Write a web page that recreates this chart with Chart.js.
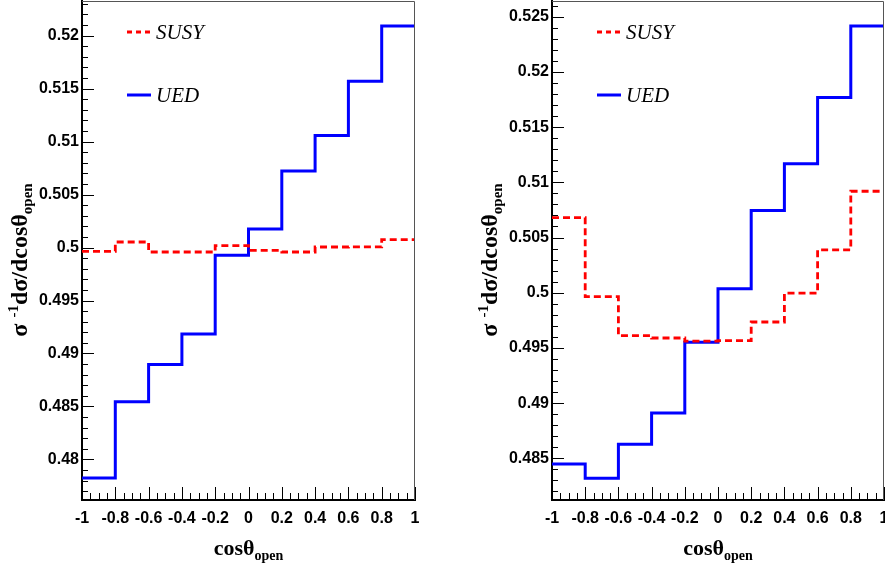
<!DOCTYPE html>
<html>
<head>
<meta charset="utf-8">
<script src="https://cdn.jsdelivr.net/npm/chart.js@4.4.1/dist/chart.umd.min.js"></script>
<style>
    body { margin: 0; background: #fff; width: 885px; height: 567px; position: relative; overflow: hidden; }
    .panel { position: absolute; top: 0; width: 440px; height: 567px; }
    #panel-left { left: 0; }
    #panel-right { left: 445px; }
</style>
</head>
<body>
<div class="panel" id="panel-left"><canvas id="chartLeft" width="440" height="567"></canvas></div>
<div class="panel" id="panel-right"><canvas id="chartRight" width="440" height="567"></canvas></div>
<script>
// bin edges of cos(theta_open), 10 bins of 0.2
const binEdges = [-1, -0.8, -0.6, -0.4, -0.2, 0, 0.2, 0.4, 0.6, 0.8, 1];
const xTickLabels = ['-1', '-0.8', '-0.6', '-0.4', '-0.2', '0', '0.2', '0.4', '0.6', '0.8', '1'];

// left plot
const susyLeft = [0.49964, 0.50052, 0.49958, 0.49958, 0.50018, 0.49974, 0.49958, 0.50005, 0.50006, 0.50074];
const uedLeft = [0.47824, 0.48544, 0.48896, 0.49183, 0.49927, 0.50174, 0.50722, 0.51057, 0.51569, 0.52091];
const yTickLabelsLeft = ['0.48', '0.485', '0.49', '0.495', '0.5', '0.505', '0.51', '0.515', '0.52'];
const yRangeLeft = [0.47617, 0.52327];

// right plot
const susyRight = [0.50681, 0.49964, 0.49612, 0.49590, 0.49562, 0.49566, 0.49735, 0.49996, 0.50389, 0.50919];
const uedRight = [0.48449, 0.48319, 0.48627, 0.48910, 0.49552, 0.50036, 0.50744, 0.51169, 0.51768, 0.52416];
const yTickLabelsRight = ['0.485', '0.49', '0.495', '0.5', '0.505', '0.51', '0.515', '0.52', '0.525'];
const yRangeRight = [0.48123, 0.52642];

const seriesNames = ['SUSY', 'UED'];

Chart.defaults.font.family = "'Liberation Sans', Arial, sans-serif";
Chart.defaults.color = '#000';

// histogram as step line: one point per left bin edge, last edge repeats the last value
function toSteps(values) {
    return binEdges.map((x, i) => ({ x: x, y: values[Math.min(i, values.length - 1)] }));
}

// ROOT-like frame: inner ticks, grey top/right border, legend and axis titles
const rootStyle = {
    id: 'rootStyle',
    afterDraw(chart) {
        const { ctx, chartArea: a, scales } = chart;
        const xs = scales.x, ys = scales.y;
        ctx.save();

        ctx.strokeStyle = '#555';
        ctx.lineWidth = 1;
        ctx.beginPath();
        ctx.moveTo(a.left, a.top + 0.5);
        ctx.lineTo(a.right - 0.5, a.top + 0.5);
        ctx.lineTo(a.right - 0.5, a.bottom);
        ctx.stroke();

        ctx.strokeStyle = '#000';
        ctx.beginPath();
        // y ticks: major every 0.005, minor every 0.001
        for (let k = Math.ceil(ys.min * 1000); k <= Math.floor(ys.max * 1000); k++) {
            const py = Math.round(ys.getPixelForValue(k / 1000)) + 0.5;
            const len = (k % 5 === 0) ? 12 : 6;
            ctx.moveTo(a.left, py);
            ctx.lineTo(a.left + len, py);
        }
        // x ticks: major every 0.2, minor every 0.05
        for (let k = -20; k <= 20; k++) {
            const px = Math.round(xs.getPixelForValue(k / 20)) + 0.5;
            const len = (k % 4 === 0) ? 13 : 7;
            ctx.moveTo(px, a.bottom);
            ctx.lineTo(px, a.bottom - len);
        }
        ctx.stroke();

        // legend inside the frame
        chart.data.datasets.forEach((ds, i) => {
            const ly = a.top + 31 + i * 63;
            ctx.strokeStyle = ds.borderColor;
            ctx.lineWidth = ds.borderWidth;
            ctx.setLineDash(ds.borderDash ? [5, 4] : []);
            ctx.beginPath();
            ctx.moveTo(a.left + 45, ly);
            ctx.lineTo(a.left + 69, ly);
            ctx.stroke();
            ctx.setLineDash([]);
            ctx.fillStyle = '#000';
            ctx.font = "italic 21px 'Liberation Serif', 'Times New Roman', serif";
            ctx.textBaseline = 'middle';
            ctx.textAlign = 'left';
            ctx.fillText(ds.label, a.left + 74, ly + 1);
        });

        // x title: cos(theta) with subscript "open"
        ctx.fillStyle = '#000';
        ctx.textBaseline = 'alphabetic';
        ctx.textAlign = 'left';
        const mainFont = "bold 22px 'Liberation Serif', 'Times New Roman', serif";
        const subFont = "bold 14px 'Liberation Serif', 'Times New Roman', serif";
        ctx.font = mainFont;
        const wMain = ctx.measureText('cos\u03b8').width;
        ctx.font = subFont;
        const wSub = ctx.measureText('open').width;
        let tx = (a.left + a.right) / 2 - (wMain + wSub) / 2;
        ctx.font = mainFont;
        ctx.fillText('cos\u03b8', tx, 555);
        ctx.font = subFont;
        ctx.fillText('open', tx + wMain, 560);

        // y title: sigma^-1 dsigma/dcos(theta)_open, rotated
        ctx.translate(a.left - 55, 260);
        ctx.rotate(-Math.PI / 2);
        const yMain = "bold 24px 'Liberation Serif', 'Times New Roman', serif";
        const ySmall = "bold 15px 'Liberation Serif', 'Times New Roman', serif";
        const parts = [
            { t: '\u03c3 ', f: yMain, dy: 0 },
            { t: '-1', f: ySmall, dy: -9 },
            { t: 'd\u03c3/dcos\u03b8', f: yMain, dy: 0 },
            { t: 'open', f: ySmall, dy: 5 }
        ];
        let total = 0;
        parts.forEach(p => { ctx.font = p.f; p.w = ctx.measureText(p.t).width; total += p.w; });
        let cx = -total / 2;
        parts.forEach(p => { ctx.font = p.f; ctx.fillText(p.t, cx, p.dy); cx += p.w; });

        ctx.restore();
    }
};

function makeChart(canvasId, susy, ued, yTicks, yRange, yAxisWidth, padRight) {
    const ctx = document.getElementById(canvasId).getContext('2d');
    return new Chart(ctx, {
        type: 'line',
        data: {
            datasets: [
                {
                    label: seriesNames[0],
                    data: toSteps(susy),
                    borderColor: '#ff0000',
                    borderWidth: 2.8,
                    borderDash: [7, 4],
                    stepped: 'before',
                    pointRadius: 0,
                    fill: false
                },
                {
                    label: seriesNames[1],
                    data: toSteps(ued),
                    borderColor: '#0000ff',
                    borderWidth: 3,
                    stepped: 'before',
                    pointRadius: 0,
                    fill: false
                }
            ]
        },
        options: {
            responsive: false,
            animation: false,
            devicePixelRatio: 1,
            layout: { padding: { left: 0, right: padRight, top: 1, bottom: 0 } },
            plugins: {
                legend: { display: false },
                tooltip: { enabled: false }
            },
            scales: {
                x: {
                    type: 'linear',
                    min: binEdges[0],
                    max: binEdges[binEdges.length - 1],
                    afterBuildTicks: scale => {
                        scale.ticks = xTickLabels.map(s => ({ value: parseFloat(s) }));
                    },
                    afterFit: scale => {
                        scale.height = 67;
                        scale.paddingLeft = 0;
                        scale.paddingRight = 0;
                    },
                    grid: { display: false, drawTicks: false },
                    border: { display: true, color: '#000', width: 2 },
                    ticks: {
                        padding: 9,
                        maxRotation: 0,
                        autoSkip: false,
                        font: { size: 16, weight: 'bold' },
                        callback: (v, i) => xTickLabels[i]
                    }
                },
                y: {
                    type: 'linear',
                    min: yRange[0],
                    max: yRange[1],
                    afterBuildTicks: scale => {
                        scale.ticks = yTicks.map(s => ({ value: parseFloat(s) }));
                    },
                    afterFit: scale => {
                        scale.width = yAxisWidth;
                        scale.paddingTop = 0;
                        scale.paddingBottom = 0;
                    },
                    grid: { display: false, drawTicks: false },
                    border: { display: true, color: '#000', width: 2 },
                    ticks: {
                        padding: 3,
                        autoSkip: false,
                        font: { size: 16, weight: 'bold' },
                        callback: (v, i) => yTicks[i]
                    }
                }
            }
        },
        plugins: [rootStyle]
    });
}

makeChart('chartLeft', susyLeft, uedLeft, yTickLabelsLeft, yRangeLeft, 82, 25);
makeChart('chartRight', susyRight, uedRight, yTickLabelsRight, yRangeRight, 107, 1);
</script>
</body>
</html>
